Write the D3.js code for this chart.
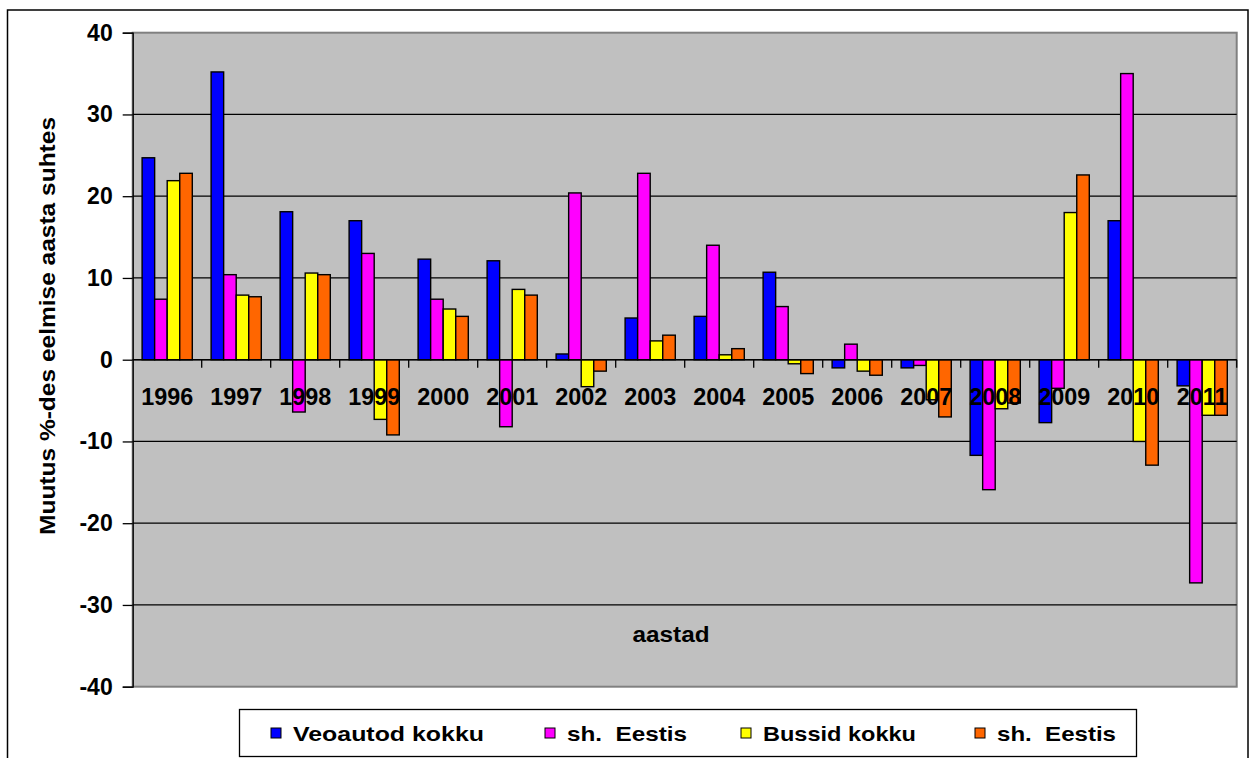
<!DOCTYPE html>
<html><head><meta charset="utf-8">
<script src="https://cdn.jsdelivr.net/npm/d3@7"></script>
<style>body{margin:0;background:#fff}svg{display:block}text{font-family:"Liberation Sans",Arial,sans-serif;font-weight:bold}</style>
</head><body>
<svg id="c" width="1250" height="758"></svg>
<script>
const years = ["1996","1997","1998","1999","2000","2001","2002","2003","2004","2005","2006","2007","2008","2009","2010","2011"];
const seriesNames = ["Veoautod kokku","sh.  Eestis","Bussid kokku","sh.  Eestis"];
const seriesColors = ["#0000FF","#FF00FF","#FFFF00","#FF6600"];
const veoautod = [24.7, 35.2, 18.1, 17.0, 12.3, 12.1, 0.7, 5.1, 5.3, 10.7, -1.0, -1.0, -11.7, -7.7, 17.0, -3.2];
const veoEestis = [7.4, 10.4, -6.4, 13.0, 7.4, -8.2, 20.4, 22.8, 14.0, 6.5, 1.9, -0.7, -15.9, -3.5, 35.0, -27.3];
const bussid = [21.9, 7.9, 10.6, -7.3, 6.2, 8.6, -3.3, 2.3, 0.6, -0.5, -1.4, -4.9, -6.0, 18.0, -10.0, -6.8];
const bussEestis = [22.8, 7.7, 10.4, -9.2, 5.3, 7.9, -1.4, 3.0, 1.35, -1.7, -1.9, -7.0, -5.3, 22.6, -12.9, -6.8];
const yTicks = [-40,-30,-20,-10,0,10,20,30,40];
const yTitle = "Muutus %-des eelmise aasta suhtes";
const xTitle = "aastad";

const series = [veoautod, veoEestis, bussid, bussEestis];
const svg = d3.select("#c");
const L = 132.7, R = 1236.7, T = 32.7, B = 686.7;

// outer border
svg.append("rect").attr("x",7.5).attr("y",10).attr("width",1240.5).attr("height",800)
  .attr("fill","#fff").attr("stroke","#000").attr("stroke-width",1.5);

const x0 = d3.scaleBand().domain(years).range([L,R]).padding(0);
const bw = x0.bandwidth();
const gap = bw*1.5/5.5;
const x1 = d3.scaleBand().domain(d3.range(4)).range([gap/2, bw-gap/2]).padding(0);
const y = d3.scaleLinear().domain([-40,40]).range([B,T]);

// plot area
svg.append("rect").attr("x",L).attr("y",T).attr("width",R-L).attr("height",B-T)
  .attr("fill","#C0C0C0").attr("stroke","#808080").attr("stroke-width",2);

// gridlines
svg.append("g").selectAll("line").data(yTicks.filter(d=>d>-40&&d<40)).join("line")
  .attr("x1",L).attr("x2",R).attr("y1",d=>y(d)).attr("y2",d=>y(d))
  .attr("stroke","#000").attr("stroke-width",1.3);

// y axis
const ya = svg.append("g").attr("transform",`translate(${L},0)`)
  .call(d3.axisLeft(y).tickValues(yTicks).tickSize(10).tickPadding(10).tickFormat(d=>String(d)));
ya.select(".domain").attr("stroke","#000").attr("stroke-width",1.3);
ya.selectAll(".tick line").attr("stroke","#000").attr("stroke-width",1.3);
ya.selectAll("text").attr("font-size",23).attr("fill","#000").style("font-family","'Liberation Sans',Arial,sans-serif").style("font-weight","bold");

// bars
const g = svg.append("g");
years.forEach((yr,i)=>{
  series.forEach((s,j)=>{
    const v = s[i];
    g.append("rect")
      .attr("x", x0(yr)+x1(j))
      .attr("width", x1.bandwidth())
      .attr("y", y(Math.max(0,v)))
      .attr("height", Math.abs(y(v)-y(0)))
      .attr("fill", seriesColors[j]).attr("stroke","#000").attr("stroke-width",1.4);
  });
});

// x axis at zero
const xa = svg.append("g").attr("transform",`translate(0,${y(0)})`);
xa.append("line").attr("x1",L).attr("x2",R).attr("stroke","#000").attr("stroke-width",1.5);
xa.selectAll("line.tk").data(years.slice(1).map(d=>x0(d)).concat([R])).join("line").attr("class","tk")
  .attr("x1",d=>d).attr("x2",d=>d).attr("y1",0).attr("y2",8).attr("stroke","#000").attr("stroke-width",1.3);
xa.selectAll("text").data(years).join("text")
  .attr("x",d=>x0(d)+bw/2).attr("y",45).attr("text-anchor","middle")
  .attr("font-size",23.4).attr("fill","#000").text(d=>d);

// axis titles
svg.append("text").attr("x",671).attr("y",642).attr("text-anchor","middle").attr("font-size",22)
  .attr("textLength",77).attr("lengthAdjust","spacingAndGlyphs").text(xTitle);
svg.append("text").attr("transform","translate(55,326) rotate(-90)").attr("text-anchor","middle")
  .attr("font-size",22).attr("textLength",418).attr("lengthAdjust","spacingAndGlyphs").text(yTitle);

// legend
svg.append("rect").attr("x",239.5).attr("y",709.5).attr("width",897).attr("height",47)
  .attr("fill","#fff").attr("stroke","#000").attr("stroke-width",1.3);
const legX = [271, 545, 741, 975];
const legW = [191, 120, 153, 119];
seriesNames.forEach((n,j)=>{
  svg.append("rect").attr("x",legX[j]).attr("y",728).attr("width",10).attr("height",10)
    .attr("fill",seriesColors[j]).attr("stroke","#000").attr("stroke-width",1);
  svg.append("text").attr("x",legX[j]+22).attr("y",741).attr("font-size",21)
    .attr("textLength",legW[j]).attr("lengthAdjust","spacingAndGlyphs")
    .style("white-space","pre").text(n);
});
</script>
</body></html>
